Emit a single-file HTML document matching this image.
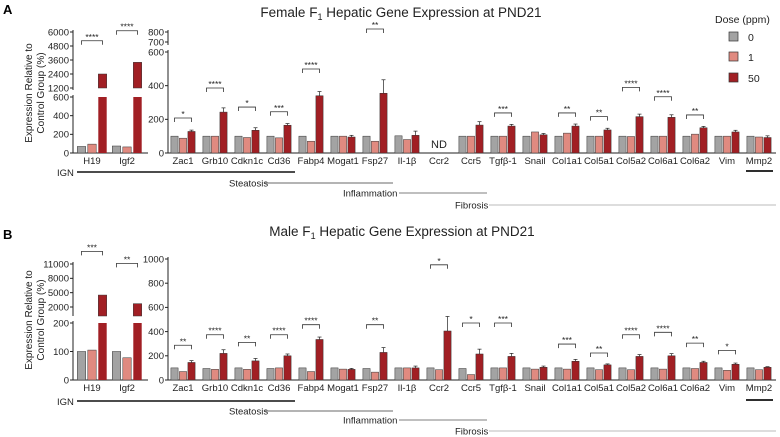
<!DOCTYPE html>
<html><head><meta charset="utf-8"><style>
html,body{margin:0;padding:0;background:#fff;}
svg{display:block;font-family:"Liberation Sans",sans-serif;}
</style></head><body>
<svg id="fig" width="780" height="437" viewBox="0 0 780 437">
<text x="3" y="14" font-size="13" font-weight="bold">A</text>
<text x="3" y="239" font-size="13" font-weight="bold">B</text>
<text x="401" y="17" font-size="13.5" text-anchor="middle" fill="#222">Female F<tspan font-size="9" dy="3">1</tspan><tspan dy="-3"> Hepatic Gene Expression at PND21</tspan></text>
<text x="402" y="236" font-size="13.5" text-anchor="middle" fill="#222">Male F<tspan font-size="9" dy="3">1</tspan><tspan dy="-3"> Hepatic Gene Expression at PND21</tspan></text>
<g font-size="10" fill="#222" text-anchor="middle">
<text transform="translate(32,93) rotate(-90)">Expression Relative to</text>
<text transform="translate(44,93) rotate(-90)">Control Group (%)</text></g>
<g font-size="10" fill="#222" text-anchor="middle">
<text transform="translate(32,320) rotate(-90)">Expression Relative to</text>
<text transform="translate(44,320) rotate(-90)">Control Group (%)</text></g>
<g font-size="10.5" fill="#222">
<text x="715" y="23">Dose (ppm)</text>
<rect x="729" y="32" width="9" height="9" fill="#a3a3a3" stroke="#333" stroke-width="0.7"/><text x="748" y="41">0</text>
<rect x="729" y="52" width="9" height="9" fill="#e08a80" stroke="#333" stroke-width="0.7"/><text x="748" y="61">1</text>
<rect x="729" y="73" width="9" height="9" fill="#a11f24" stroke="#333" stroke-width="0.7"/><text x="748" y="82">50</text>
</g>
<g id="plots"></g>
</svg>
<script>
const genes = ["Zac1","Grb10","Cdkn1c","Cd36","Fabp4","Mogat1","Fsp27","Il-1\u03B2","Ccr2","Ccr5","Tgf\u03B2-1","Snail","Col1a1","Col5a1","Col5a2","Col6a1","Col6a2","Vim","Mmp2"];
const igGenes = ["H19","Igf2"];
const femaleDose0 = [100,100,100,100,100,100,100,102,null,100,100,100,100,100,100,100,100,100,100];
const femaleDose1 = [88,100,92,90,70,100,70,80,null,100,100,125,118,100,98,100,112,100,95];
const femaleDose50 = [128,243,135,165,340,95,355,105,null,166,160,108,160,137,216,212,150,125,92];
const femaleErr50 = [8,25,15,10,25,10,80,25,null,20,10,8,12,10,15,15,8,10,10];
const femaleIg0 = [70,75];
const femaleIg1 = [95,65];
const femaleIg50 = [2400,3400];
const femaleSigIdx = [0,1,2,3,4,6,10,12,13,14,15,16];
const femaleSigVal = [208,386,273,245,499,830,238,238,216,390,334,226];
const femaleSigLbl = ["*","****","*","***","****","**","***","**","**","****","****","**"];
const femaleIgSigVal = [5250,6110];
const femaleIgSigLbl = ["****","****"];
const maleDose0 = [100,95,100,95,100,100,95,100,100,95,100,100,100,100,100,100,100,100,100];
const maleDose1 = [70,88,88,100,70,90,65,100,85,45,100,90,90,85,85,90,95,80,85];
const maleDose50 = [145,220,158,200,335,88,228,100,405,215,195,105,155,125,195,200,145,130,105];
const maleErr50 = [15,30,20,15,20,8,40,15,120,40,25,10,15,8,15,18,10,10,5];
const maleIg0 = [100,100];
const maleIg1 = [105,78];
const maleIg50 = [4500,2700];
const maleSigIdx = [0,1,2,3,4,6,8,9,10,12,13,14,15,16,17];
const maleSigVal = [287,374,311,374,457,457,952,471,471,297,223,374,394,305,245];
const maleSigLbl = ["**","****","**","****","****","**","*","*","***","***","**","****","****","**","*"];
const maleIgSigVal = [13640,11130];
const maleIgSigLbl = ["***","**"];
const ticksAR = [0,200,400,600,700,800];
const ticksAL = [0,200,400,600,1200,2400,3600,4800,6000];
const ticksBR = [0,200,400,600,800,1000];
const ticksBL = [0,100,200,2000,5000,8000,11000];

const NS='http://www.w3.org/2000/svg';
const root=document.getElementById('plots');
const COLORS=['#a3a3a3','#e08a80','#a11f24'];
function mk(tag,attrs,parent){const e=document.createElementNS(NS,tag);for(const k in attrs)e.setAttribute(k,attrs[k]);(parent||root).appendChild(e);return e;}
function xR(i){return 183+i*32;}
function xL(i){return 92+i*35;}
function yAR(v){return v<=600?153-v*101/600:42-(v-700)*0.1;}
function yAL(v){return v<=600?153-v*56/600:88-(v-1200)*56/4800;}
function yBR(v){return 380-v*121/1000;}
function yBL(v){return v<=200?380-v*57/200:307-(v-2000)*43/9000;}

function axis(g,x,base,segs,ticks,yf){
  segs.forEach(s=>mk('line',{x1:x,x2:x,y1:s[0],y2:s[1],stroke:'#222','stroke-width':1},g));
  ticks.forEach(t=>{const y=yf(t);
    mk('line',{x1:x-3,x2:x,y1:y,y2:y,stroke:'#222','stroke-width':1},g);
    const tx=mk('text',{x:x-4,y:y+3.3,'font-size':9.5,'text-anchor':'end',fill:'#222'},g);tx.textContent=t;});
}
function bracket(g,cx,y,lbl,off){
  mk('path',{d:`M${cx-off} ${y+4}V${y}H${cx+off}V${y+4}`,fill:'none',stroke:'#333','stroke-width':0.8},g);
  const t=mk('text',{x:cx,y:y-1,'font-size':8.5,'text-anchor':'middle',fill:'#222'},g);t.textContent=lbl;
}
function panel(pfx,base,yR,yL,d0,d1,d50,e50,ig0,ig1,ig50,sI,sV,sL,igSV,igSL,tR,tL,segR,segL,lowTopL,upBotL,labY){
  const g=mk('g',{});
  
  
  axis(g,168,base,segR,tR,yR);
  axis(g,73,base,segL,tL,yL);
  mk('line',{x1:168,x2:776,y1:base,y2:base,stroke:'#222','stroke-width':1},g);
  mk('line',{x1:73,x2:148,y1:base,y2:base,stroke:'#222','stroke-width':1},g);
  const series=[d0,d1,d50];
  genes.forEach((gn,i)=>{
    const cx=xR(i);
    const lab=mk('text',{x:cx,y:labY,'font-size':9.5,'text-anchor':'middle',fill:'#222'},g);lab.textContent=gn;
    
    
    if(d0[i]==null){const nd=mk('text',{x:cx,y:base-5,'font-size':11,'text-anchor':'middle',fill:'#222'},g);nd.textContent='ND';
      
      return;}
    series.forEach((s,k)=>{
      const bx=cx+(k-1)*8.5-3.6, y=yR(s[i]);
      const r=mk('rect',{x:bx,y:y,width:7.2,height:base-y,fill:COLORS[k],stroke:'#333','stroke-width':0.5},g);
      
      
    });
    const ex=cx+8.5, ey1=yR(d50[i]+e50[i]);
    mk('line',{x1:ex,x2:ex,y1:ey1,y2:yR(d50[i]),stroke:'#222','stroke-width':0.7},g);
    mk('line',{x1:ex-2,x2:ex+2,y1:ey1,y2:ey1,stroke:'#222','stroke-width':0.7},g);
  });
  const igS=[ig0,ig1,ig50];
  igGenes.forEach((gn,i)=>{
    const cx=xL(i);
    const lab=mk('text',{x:cx,y:labY,'font-size':9.5,'text-anchor':'middle',fill:'#222'},g);lab.textContent=gn;
    
    
    igS.forEach((s,k)=>{
      const bx=cx+(k-1)*10.5-4.2, v=s[i];
      let r;
      if(yL(v)<lowTopL){
        r=mk('rect',{x:bx,y:lowTopL,width:8.4,height:base-lowTopL,fill:COLORS[k],stroke:'none'},g);
        mk('rect',{x:bx,y:yL(v),width:8.4,height:upBotL-yL(v),fill:COLORS[k],stroke:'#333','stroke-width':0.5},g);
      } else {
        r=mk('rect',{x:bx,y:yL(v),width:8.4,height:base-yL(v),fill:COLORS[k],stroke:'#333','stroke-width':0.5},g);
      }
      
      
    });
  });
  sI.forEach((gi,j)=>bracket(g,xR(gi),yR(sV[j]),sL[j],8.5));
  igGenes.forEach((gn,i)=>bracket(g,xL(i),yL(igSV[i]),igSL[i],10.5));
  return g;
}
panel('female',153,yAR,yAL,femaleDose0,femaleDose1,femaleDose50,femaleErr50,femaleIg0,femaleIg1,femaleIg50,
  femaleSigIdx,femaleSigVal,femaleSigLbl,femaleIgSigVal,femaleIgSigLbl,ticksAR,ticksAL,
  [[153,50],[45,30]],[[153,95],[90,30]],97,88,164);
panel('male',380,yBR,yBL,maleDose0,maleDose1,maleDose50,maleErr50,maleIg0,maleIg1,maleIg50,
  maleSigIdx,maleSigVal,maleSigLbl,maleIgSigVal,maleIgSigLbl,ticksBR,ticksBL,
  [[380,257]],[[380,321],[316,262]],323,316,391);

function groupLines(pfx,yI,yS,yInf,yF){
  const g=mk('g',{'font-size':9.5,fill:'#222'});
  
  
  let t;
  t=mk('text',{x:57,y:yI+4},g);t.textContent='IGN';
  mk('line',{x1:77,x2:295,y1:yI,y2:yI,stroke:'#111','stroke-width':1.6},g);
  mk('line',{x1:746,x2:773,y1:yI-1,y2:yI-1,stroke:'#111','stroke-width':1.8},g);
  t=mk('text',{x:229,y:yS+3.5},g);t.textContent='Steatosis';
  mk('line',{x1:265,x2:393,y1:yS,y2:yS,stroke:'#888','stroke-width':1.3},g);
  t=mk('text',{x:343,y:yInf+3.5},g);t.textContent='Inflammation';
  mk('line',{x1:399,x2:487,y1:yInf,y2:yInf,stroke:'#999','stroke-width':1.2},g);
  t=mk('text',{x:455,y:yF+3.5},g);t.textContent='Fibrosis';
  mk('line',{x1:489,x2:776,y1:yF,y2:yF,stroke:'#bbb','stroke-width':1},g);
}
groupLines('female',172,183,193,205);
groupLines('male',401,411,420,431);
</script>
</body></html>
